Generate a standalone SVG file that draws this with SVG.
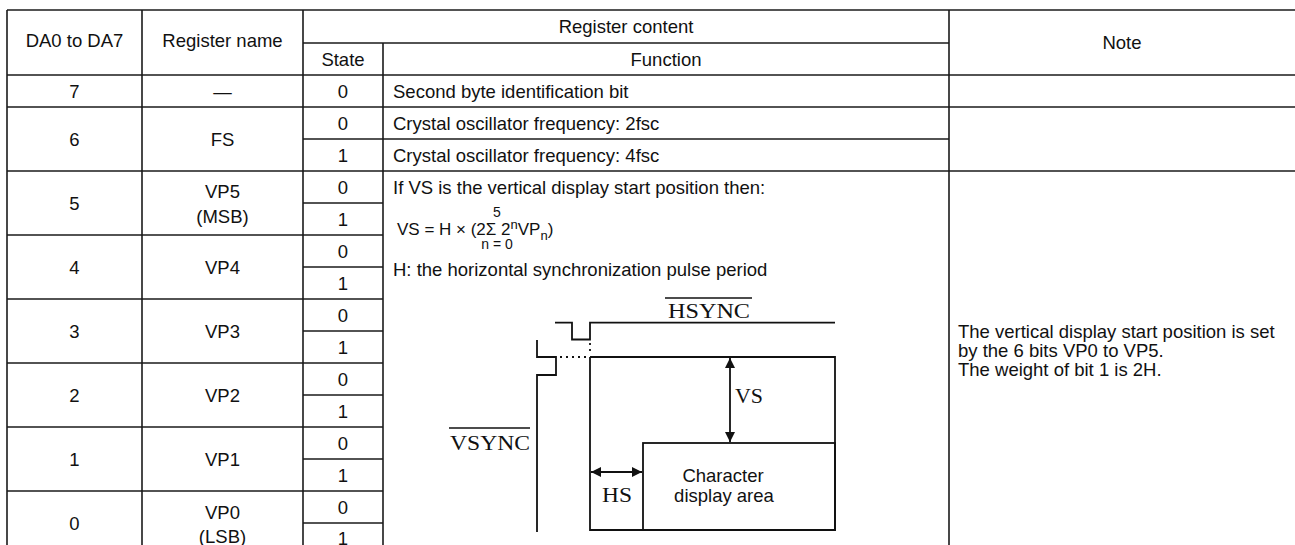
<svg xmlns="http://www.w3.org/2000/svg" width="1295" height="545" viewBox="0 0 1295 545">
<style>
text{font-family:"Liberation Sans",Arial,sans-serif;font-size:18.5px;fill:#111}
.c{text-anchor:middle}
.f{font-size:17px}
.sm{font-size:13px}
.lim{font-size:14px;text-anchor:middle}
.sf{font-family:"Liberation Serif","Times New Roman",serif;font-size:20px}
.g line{stroke:#1a1a1a;stroke-width:1.6;fill:none}
.w line,.w polyline,.w rect{stroke:#111;stroke-width:1.8;fill:none}
.w line.dot{stroke:#111;stroke-width:1.8;stroke-dasharray:2 4;fill:none}
</style>
<defs>
<marker id="ah" viewBox="0 0 10 10" refX="10" refY="5" markerWidth="10" markerHeight="10" markerUnits="userSpaceOnUse" orient="auto-start-reverse">
<path d="M0,0 L10,5 L0,10 z" fill="#111"/>
</marker>
</defs>
<rect width="1295" height="545" fill="#fff"/>
<g id="grid" class="g">
<line x1="7" y1="10" x2="1295" y2="10"/>
<line x1="303" y1="43" x2="949" y2="43"/>
<line x1="7" y1="75" x2="1295" y2="75"/>
<line x1="7" y1="107" x2="1295" y2="107"/>
<line x1="303" y1="139" x2="949" y2="139"/>
<line x1="7" y1="171" x2="1295" y2="171"/>
<line x1="303" y1="203" x2="383" y2="203"/>
<line x1="7" y1="235" x2="383" y2="235"/>
<line x1="303" y1="267" x2="383" y2="267"/>
<line x1="7" y1="299" x2="383" y2="299"/>
<line x1="303" y1="331" x2="383" y2="331"/>
<line x1="7" y1="363" x2="383" y2="363"/>
<line x1="303" y1="395" x2="383" y2="395"/>
<line x1="7" y1="427" x2="383" y2="427"/>
<line x1="303" y1="459" x2="383" y2="459"/>
<line x1="7" y1="491" x2="383" y2="491"/>
<line x1="303" y1="523" x2="383" y2="523"/>
<line x1="7" y1="10" x2="7" y2="545"/>
<line x1="142" y1="10" x2="142" y2="545"/>
<line x1="303" y1="10" x2="303" y2="545"/>
<line x1="383" y1="43" x2="383" y2="545"/>
<line x1="949" y1="10" x2="949" y2="545"/>
</g>
<g id="header">
<text class="c" x="74.5" y="47">DA0 to DA7</text>
<text class="c" x="222.5" y="47">Register name</text>
<text class="c" x="626" y="33">Register content</text>
<text class="c" x="343" y="65.5">State</text>
<text class="c" x="666" y="65.5">Function</text>
<text class="c" x="1122" y="49">Note</text>
</g>
<g id="row7">
<text class="c" x="74.5" y="97.5">7</text>
<text class="c" x="222.5" y="97.5">—</text>
<text class="c" x="343" y="97.5">0</text>
<text x="393" y="97.5">Second byte identification bit</text>
</g>
<g id="row6">
<text class="c" x="74.5" y="145.5">6</text>
<text class="c" x="222.5" y="145.5">FS</text>
<text class="c" x="343" y="129.5">0</text>
<text class="c" x="343" y="161.5">1</text>
<text x="393" y="129.5">Crystal oscillator frequency: 2fsc</text>
<text x="393" y="161.5">Crystal oscillator frequency: 4fsc</text>
</g>
<g id="row5">
<text class="c" x="74.5" y="209.5">5</text>
<text class="c" x="222.5" y="198">VP5</text>
<text class="c" x="222.5" y="223">(MSB)</text>
<text class="c" x="343" y="193.5">0</text>
<text class="c" x="343" y="225.5">1</text>
</g>
<g id="row4">
<text class="c" x="74.5" y="273.5">4</text>
<text class="c" x="222.5" y="273.5">VP4</text>
<text class="c" x="343" y="257.5">0</text>
<text class="c" x="343" y="289.5">1</text>
</g>
<g id="row3">
<text class="c" x="74.5" y="337.5">3</text>
<text class="c" x="222.5" y="337.5">VP3</text>
<text class="c" x="343" y="321.5">0</text>
<text class="c" x="343" y="353.5">1</text>
</g>
<g id="row2">
<text class="c" x="74.5" y="401.5">2</text>
<text class="c" x="222.5" y="401.5">VP2</text>
<text class="c" x="343" y="385.5">0</text>
<text class="c" x="343" y="417.5">1</text>
</g>
<g id="row1">
<text class="c" x="74.5" y="465.5">1</text>
<text class="c" x="222.5" y="465.5">VP1</text>
<text class="c" x="343" y="449.5">0</text>
<text class="c" x="343" y="481.5">1</text>
</g>
<g id="row0">
<text class="c" x="74.5" y="529.5">0</text>
<text class="c" x="222.5" y="519">VP0</text>
<text class="c" x="222.5" y="543">(LSB)</text>
<text class="c" x="343" y="513.5">0</text>
<text class="c" x="343" y="544.5">1</text>
</g>
<g id="function-vp">
<text x="393" y="194">If VS is the vertical display start position then:</text>
<text class="f" x="397" y="235">VS = H × (2Σ 2<tspan class="sm" dy="-6">n</tspan><tspan dy="6">VP</tspan><tspan class="sm" dy="5">n</tspan><tspan dy="-5">)</tspan></text>
<text class="lim" x="497" y="217">5</text>
<text class="lim" x="497" y="249">n = 0</text>
<text x="393" y="276">H: the horizontal synchronization pulse period</text>
</g>
<g id="note">
<text x="958" y="338">The vertical display start position is set</text>
<text x="958" y="357">by the 6 bits VP0 to VP5.</text>
<text x="958" y="376">The weight of bit 1 is 2H.</text>
</g>
<g id="timing" class="w">
<polyline points="555,322.7 572,322.7 572,339.5 590,339.5 590,322.7 835,322.7"/>
<polyline points="537,340 537,357 556,357 556,375 537,375 537,532"/>
<line class="dot" x1="560" y1="357" x2="588" y2="357"/>
<line class="dot" x1="590" y1="343" x2="590" y2="355"/>
<polyline points="590,357 835,357 835,530 590,530 590,357"/>
<rect x="643" y="443" width="192" height="87"/>
</g>
<g id="connectors" class="w">
<line x1="730" y1="358" x2="730" y2="442" marker-start="url(#ah)" marker-end="url(#ah)"/>
<line x1="591" y1="472" x2="642" y2="472" marker-start="url(#ah)" marker-end="url(#ah)"/>
</g>
<g id="labels">
<text class="sf" x="668" y="318" textLength="82" lengthAdjust="spacingAndGlyphs">HSYNC</text>
<line x1="665" y1="298" x2="752" y2="298" stroke="#111" stroke-width="1.5"/>
<text class="sf" x="450" y="450" textLength="80" lengthAdjust="spacingAndGlyphs">VSYNC</text>
<line x1="449" y1="428" x2="530" y2="428" stroke="#111" stroke-width="1.5"/>
<text class="sf" x="735" y="403" textLength="28" lengthAdjust="spacingAndGlyphs">VS</text>
<text class="sf" x="602" y="502" textLength="30" lengthAdjust="spacingAndGlyphs">HS</text>
<text class="c" x="723" y="482">Character</text>
<text class="c" x="724" y="502">display area</text>
</g>
</svg>
